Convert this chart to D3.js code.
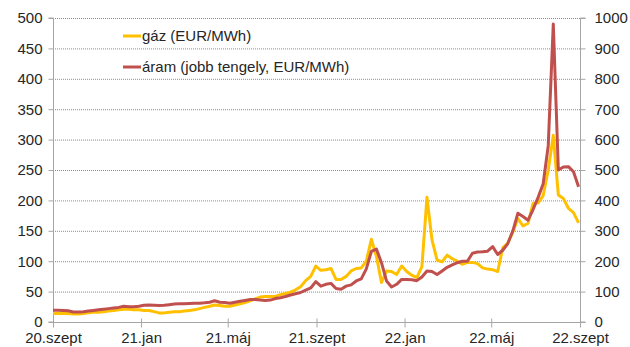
<!DOCTYPE html>
<html>
<head>
<meta charset="utf-8">
<script src="https://cdn.jsdelivr.net/npm/d3@7"></script>
<style>
  html, body { margin: 0; padding: 0; background: #fff; }
  svg { display: block; font-family: "Liberation Sans", Arial, sans-serif; }
</style>
</head>
<body>
<svg id="chart" width="630" height="347"></svg>
<script>
// Weekly gas price (EUR/MWh, left axis), from the week of 2020-09-01
const gas = [
  14, 14, 14, 14, 13, 13, 14, 15, 16, 16,
  17, 18, 19, 20, 21, 21, 20, 20, 19, 19,
  17, 15, 15, 16, 17, 17, 18, 19, 20, 22,
  24, 26, 28, 27, 26, 26, 28, 30, 32, 35,
  38, 41, 42, 42, 42, 45, 47, 49, 53, 58,
  68, 75, 92, 85, 86, 88, 70, 70, 75, 84,
  88, 89, 100, 136, 108, 65, 84, 83, 78, 92,
  83, 77, 73, 91, 205, 135, 102, 99, 110, 104,
  100, 95, 98, 98, 96, 89, 87, 86, 83, 122,
  130, 148, 170, 158, 162, 195, 196, 208, 250, 307,
  209, 203, 187, 180, 163
];

// Weekly power price (EUR/MWh, right axis)
const power = [
  39, 39, 38, 37, 33, 33, 34, 36, 38, 40,
  42, 44, 46, 48, 52, 50, 50, 52, 55, 56,
  55, 54, 55, 57, 59, 60, 60, 61, 62, 62,
  63, 65, 70, 65, 64, 62, 65, 68, 71, 74,
  74, 72, 71, 72, 77, 80, 84, 89, 93, 97,
  105, 112, 133, 118, 124, 127, 110, 108, 118, 122,
  135, 142, 175, 232, 240, 195, 135, 115, 124, 140,
  140, 139, 136, 148, 168, 166, 156, 168, 180, 188,
  195, 200, 200, 226, 230, 231, 233, 248, 222, 236,
  258, 300, 358, 347, 335, 370, 410, 455, 580, 980,
  500, 510, 511, 494, 445
];

const seriesNames = ["gáz (EUR/MWh)", "áram (jobb tengely, EUR/MWh)"];
const seriesColors = ["#FFC000", "#C0504D"];

const leftTicks = [0, 50, 100, 150, 200, 250, 300, 350, 400, 450, 500];
const rightTicks = [0, 100, 200, 300, 400, 500, 600, 700, 800, 900, 1000];
const xTickDates = ["2020-09-01", "2021-01-01", "2021-05-01", "2021-09-01", "2022-01-01", "2022-05-01", "2022-09-01"];
const xTickLabels = ["20.szept", "21.jan", "21.máj", "21.szept", "22.jan", "22.máj", "22.szept"];

const startDate = new Date(2020, 8, 1);
const weeks = gas.map((_, i) => new Date(2020, 8, 1 + 7 * i));
const tickDates = xTickDates.map(s => { const [y, m, d] = s.split("-").map(Number); return new Date(y, m - 1, d); });

const svg = d3.select("#chart");
const plotLeft = 53, plotRight = 580, plotTop = 18, plotBottom = 322;

const x = d3.scaleTime().domain([startDate, new Date(2022, 8, 1)]).range([plotLeft, plotRight]);
const yL = d3.scaleLinear().domain([0, 500]).range([plotBottom, plotTop]);
const yR = d3.scaleLinear().domain([0, 1000]).range([plotBottom, plotTop]);

const axisColor = "#a6a6a6";
const textColor = "#262626";

// horizontal dotted gridlines
svg.append("g")
  .selectAll("line")
  .data(leftTicks.filter(v => v > 0))
  .join("line")
  .attr("x1", plotLeft).attr("x2", plotRight)
  .attr("y1", d => yL(d) + 0.5).attr("y2", d => yL(d) + 0.5)
  .attr("stroke", "#8c8c8c")
  .attr("stroke-width", 1)
  .attr("stroke-dasharray", "1,1");

// left axis
const gL = svg.append("g").attr("transform", `translate(${plotLeft + 0.5},0)`)
  .call(d3.axisLeft(yL).tickValues(leftTicks).tickSize(5).tickPadding(6)
    .tickFormat(d3.format("d")));
// right axis
const gR = svg.append("g").attr("transform", `translate(${plotRight + 0.5},0)`)
  .call(d3.axisRight(yR).tickValues(rightTicks).tickSize(5).tickPadding(9)
    .tickFormat(d3.format("d")));
// bottom axis
const gB = svg.append("g").attr("transform", `translate(0,${plotBottom + 0.5})`)
  .call(d3.axisBottom(x).tickValues(tickDates).tickSize(5).tickPadding(5)
    .tickFormat((d, i) => xTickLabels[i]));
gB.selectAll(".tick line").attr("y1", -4);

[gL, gR, gB].forEach(g => {
  g.selectAll(".domain").attr("stroke", axisColor).attr("stroke-width", 1);
  g.selectAll(".tick line").attr("stroke", axisColor);
  g.selectAll(".tick text")
    .attr("fill", textColor)
    .style("font-size", "15px")
    .style("font-family", "'Liberation Sans', Arial, sans-serif");
});
gL.select(".domain").attr("d", `M-5,${plotTop}H0V${plotBottom}H-5`);
gR.select(".domain").attr("d", `M5,${plotTop}H0V${plotBottom}H5`);
gB.select(".domain").attr("d", `M${plotLeft},0H${plotRight}`);
gB.selectAll(".tick text").attr("dy", "0.71em");

// series lines
const gasLine = d3.line().x((d, i) => x(weeks[i])).y(d => yL(d));
const powerLine = d3.line().x((d, i) => x(weeks[i])).y(d => yR(d));

svg.append("path").datum(gas)
  .attr("d", gasLine)
  .attr("fill", "none").attr("stroke", seriesColors[0])
  .attr("stroke-width", 3).attr("stroke-linejoin", "round");

svg.append("path").datum(power)
  .attr("d", powerLine)
  .attr("fill", "none").attr("stroke", seriesColors[1])
  .attr("stroke-width", 3).attr("stroke-linejoin", "round");

// legend
const legend = svg.append("g").attr("transform", "translate(123,36)");
const items = legend.selectAll("g").data(seriesNames).join("g")
  .attr("transform", (d, i) => `translate(0,${i * 31})`);
items.append("line")
  .attr("x1", 0).attr("x2", 18).attr("y1", 0).attr("y2", 0)
  .attr("stroke", (d, i) => seriesColors[i]).attr("stroke-width", 3);
items.append("text")
  .attr("x", 19).attr("y", 0).attr("dy", "0.35em")
  .attr("fill", textColor)
  .style("font-size", "15px")
  .text(d => d);
</script>
</body>
</html>
